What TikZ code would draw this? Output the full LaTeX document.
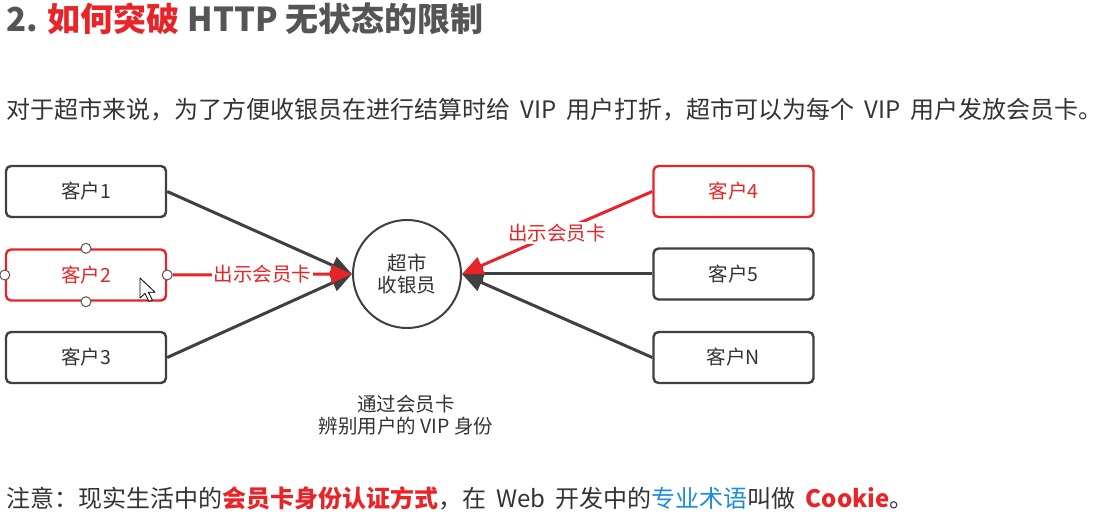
\documentclass[tikz,border=0pt]{standalone}
\usepackage{fontspec}
\setmainfont{Noto Sans CJK SC}
\usetikzlibrary{arrows.meta,positioning}
\definecolor{TextGray}{RGB}{51,51,51}
\definecolor{TitleGray}{RGB}{85,85,85}
\definecolor{LineGray}{RGB}{64,64,64}
\definecolor{CardRed}{RGB}{232,36,40}
\definecolor{TermBlue}{RGB}{30,140,220}
\newcommand{\bodyfont}{\fontsize{24}{28}\selectfont}
\newcommand{\smallfont}{\fontsize{19.5}{22}\selectfont}
\newcommand{\latgap}{\hspace{0.2em}}

\begin{document}
\begin{tikzpicture}[x=1pt,y=-1pt,
  client/.style={draw=LineGray,line width=2.4pt,rounded corners=5pt,minimum width=160pt,minimum height=51pt,text=TextGray,font=\smallfont},
  redclient/.style={client,draw=CardRed,text=CardRed},
  flow/.style={draw=LineGray,line width=3pt,-{Triangle[length=21pt,width=18pt]}},
  redflow/.style={flow,draw=CardRed},
  cardlabel/.style={fill=white,text=CardRed,inner sep=2pt,font=\smallfont},
  port/.style={circle,draw=TitleGray,fill=white,line width=1pt,inner sep=0pt,minimum size=10pt}]
\fill[white] (0,0) rectangle (1110,518);
\useasboundingbox (0,0) rectangle (1110,518);

\node[anchor=west,inner sep=0pt,text=TitleGray,font=\fontsize{33}{40}\selectfont\bfseries] (title) at (6,19)
  {2. \textcolor{CardRed}{如何突破} HTTP 无状态的限制};
\node[anchor=west,inner sep=0pt,text=TextGray,font=\bodyfont] (intro) at (6,110)
  {对于超市来说，为了方便收银员在进行结算时给\latgap{} VIP \latgap{}用户打折，超市可以为每个\latgap{} VIP \latgap{}用户发放会员卡。};

\node[client] (c1) at (86,191.5) {客户1};
\node[redclient] (c2) at (86,275) {客户2};
\node[client] (c3) at (86,357.5) {客户3};
\node[redclient] (c4) at (733.5,191.5) {客户4};
\node[client] (c5) at (733.5,274) {客户5};
\node[client] (cn) at (733.5,357.5) {客户N};
\node[circle,draw=LineGray,line width=2pt,minimum size=108pt,align=center,text=TextGray,font=\smallfont] (cashier) at (407,274)
  {超市\\收银员};

\foreach \a in {north,south,west,east}
  \node[port] (p\a) at (c2.\a) {};

\draw[flow] (c1.east) -- (cashier.west);
\draw[flow] (c3.east) -- (cashier.west);
\draw[redflow] (peast) -- node[cardlabel] {出示会员卡} (cashier.west);
\draw[flow] (c5.west) -- (cashier.east);
\draw[flow] (cn.west) -- (cashier.east);
\draw[redflow] (c4.west) -- node[cardlabel] {出示会员卡} (cashier.east);

\draw[black,fill=white,line width=0.8pt,line join=round] (140,278) -- ++(0,20) -- ++(5,-4.5) -- ++(4,8)
  -- ++(3.4,-1.5) -- ++(-4,-7.8) -- ++(6.6,0) -- cycle;

\node[align=center,text=TextGray,font=\smallfont] (caption) at (406,415)
  {通过会员卡\\辨别用户的 VIP 身份};
\node[anchor=west,inner sep=0pt,text=TextGray,font=\bodyfont] (note) at (6,498)
  {注意：现实生活中的\textcolor{CardRed}{\bfseries 会员卡身份认证方式}，在\latgap{} Web \latgap{}开发中的\textcolor{TermBlue}{专业术语}叫做\latgap{} \textcolor{CardRed}{\bfseries Cookie}。};
\end{tikzpicture}
\end{document}
